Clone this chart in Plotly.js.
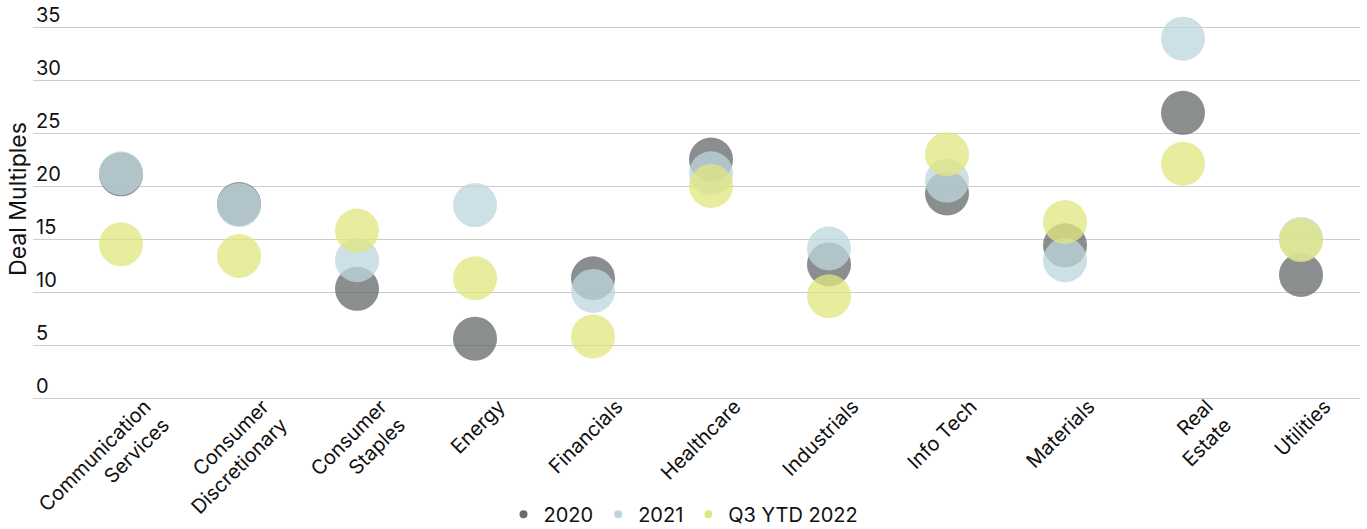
<!DOCTYPE html>
<html>
<head>
<meta charset="utf-8">
<script src="https://cdn.plot.ly/plotly-3.0.1.min.js"></script>
<style>html,body{margin:0;padding:0;background:#fff;}#chart{width:1367px;height:529px;}</style>
</head>
<body>
<div id="chart"></div>
<script>
var categories = ["Communication<br>Services", "Consumer<br>Discretionary", "Consumer<br>Staples", "Energy", "Financials", "Healthcare", "Industrials", "Info Tech", "Materials", "Real<br>Estate", "Utilities"];
var seriesNames = ["2020", "2021", "Q3 YTD 2022"];
var values2020 = [21.1, 18.3, 10.3, 5.6, 11.3, 22.5, 12.6, 19.3, 14.4, 26.9, 11.6];
var values2021 = [21.2, 18.2, 13.0, 18.2, 10.1, 21.2, 14.1, 20.5, 13.0, 33.9, 15.0];
var values2022 = [14.5, 13.4, 15.8, 11.3, 5.8, 20.0, 9.6, 23.0, 16.6, 22.1, 14.9];
var yTicks = [0, 5, 10, 15, 20, 25, 30, 35];

var markerColors = ["rgba(99,104,105,0.75)", "rgba(188,214,220,0.75)", "rgba(224,230,126,0.75)"];
var legendColors = ["rgb(105,108,109)", "rgb(188,214,220)", "rgb(224,230,126)"];
var seriesValues = [values2020, values2021, values2022];

var xIdx = categories.map(function(_, i){ return i; });
var traces = [];
seriesValues.forEach(function(vals, k){
  traces.push({
    type: "scatter", mode: "markers", x: xIdx, y: vals, name: seriesNames[k],
    showlegend: false, hoverinfo: "skip", cliponaxis: false,
    marker: {size: 44, color: markerColors[k], line: {width: 0}}
  });
});
seriesNames.forEach(function(n, k){
  traces.push({
    type: "scatter", mode: "markers", x: [null], y: [null], name: n,
    showlegend: true,
    marker: {size: 8, color: legendColors[k]}
  });
});

var layout = {
  width: 1367, height: 529,
  margin: {l: 33, r: 7, t: 0, b: 131, autoexpand: false},
  paper_bgcolor: "#fff", plot_bgcolor: "#fff",
  font: {family: "Inter, 'Noto Sans', sans-serif", color: "#111", size: 20},
  showlegend: true,
  legend: {orientation: "h", x: 0.5, xanchor: "center", xref: "container",
           y: 0.028, yanchor: "middle", yref: "container",
           font: {size: 20, color: "#111"}, itemwidth: 30, tracegroupgap: 0},
  xaxis: {
    type: "linear", range: [-0.746, 10.5],
    tickmode: "array", tickvals: xIdx, ticktext: categories,
    tickangle: -45, tickfont: {size: 20, color: "#111"},
    ticklabelshift: 24, ticklabelstandoff: -8,
    showgrid: false, zeroline: false, showline: false, ticks: ""
  },
  yaxis: {
    range: [0, 37.547], tickmode: "array", tickvals: yTicks, ticktext: yTicks.map(String),
    showgrid: true, gridcolor: "#cccccc", gridwidth: 1,
    zeroline: true, zerolinecolor: "#cccccc", zerolinewidth: 1,
    showline: false, ticks: "",
    ticklabelposition: "inside", ticklabelshift: -12,
    tickfont: {size: 20, color: "#111"},
    title: {text: "Deal Multiples\u00a0\u00a0\u00a0\u00a0\u00a0\u00a0\u00a0\u00a0\u00a0", font: {size: 23, color: "#111"}, standoff: 2}
  }
};

Plotly.newPlot("chart", traces, layout, {displayModeBar: false, staticPlot: true});
</script>
</body>
</html>
